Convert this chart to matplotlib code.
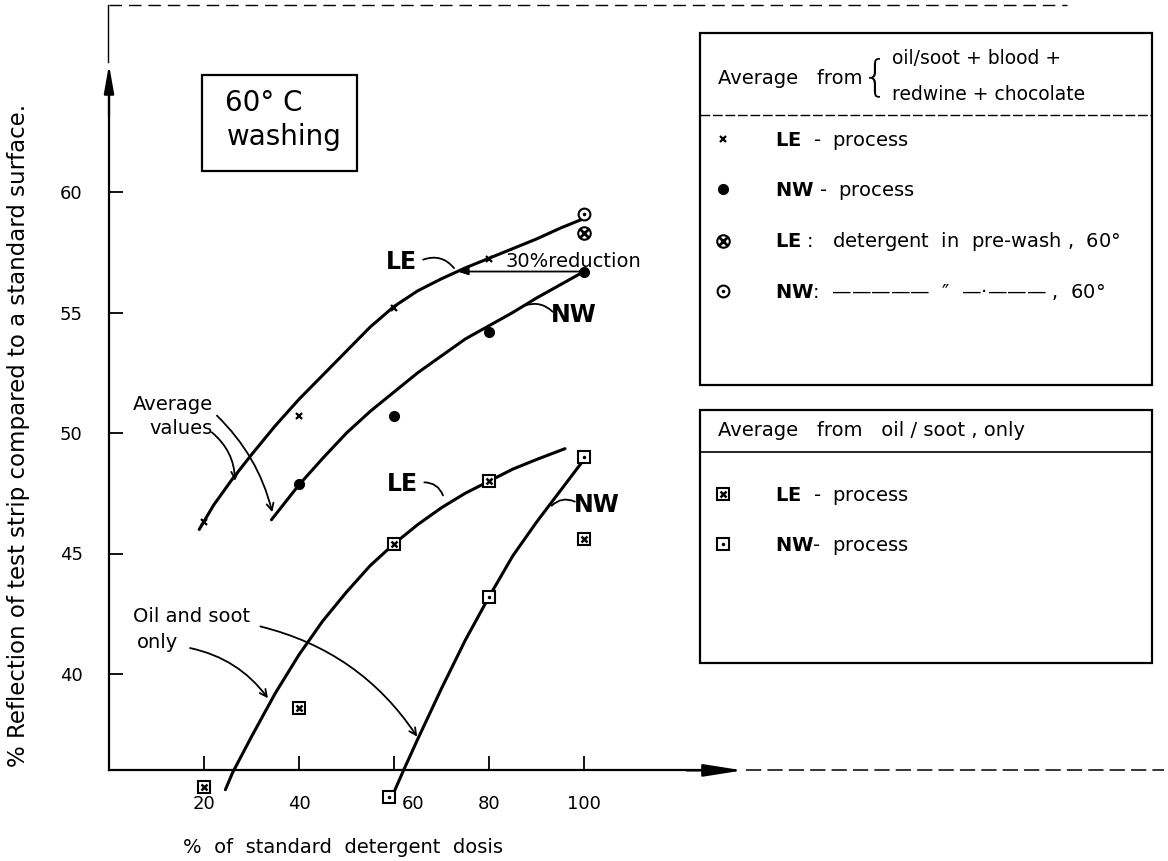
import matplotlib
matplotlib.use("Agg")
import matplotlib.pyplot as plt
from matplotlib.transforms import Affine2D, ScaledTranslation
from matplotlib.patches import Rectangle
from matplotlib.legend_handler import HandlerTuple

# figure size in pixels and the pixel layout of the axes (origin, scale)
W, H = 1168, 861
X0_PX, X_SCALE = 109, 4.75      # px of dose 0, px per % dose
Y60_PX, Y_SCALE = 192, 24.1     # px of 60 % reflection, px per % reflection
AXIS_Y = 36.0                    # where the x axis crosses

dose_le = [20, 40, 60, 80]
refl_le = [46.3, 50.7, 55.2, 57.2]
dose_nw = [40, 60, 80, 100]
refl_nw = [47.9, 50.7, 54.2, 56.7]
dose_pre = [100]
refl_pre_le = [58.3]
refl_pre_nw = [59.1]
dose_oil_le = [20, 40, 60, 80, 100]
refl_oil_le = [35.3, 38.6, 45.4, 48.0, 45.6]
dose_oil_nw = [59, 80, 100]
refl_oil_nw = [34.9, 43.2, 49.0]

# hand drawn average curves
curve_le_x = [19, 22, 26, 30, 35, 40, 45, 50, 55, 60, 65, 70, 75, 80, 85, 90, 95, 100]
curve_le_y = [46.0, 47.0, 48.1, 49.1, 50.3, 51.4, 52.4, 53.4, 54.4, 55.25,
              55.9, 56.4, 56.85, 57.25, 57.65, 58.05, 58.5, 58.9]
curve_nw_x = [34.2, 40, 45, 50, 55, 60, 65, 70, 75, 80, 85, 90, 95, 100]
curve_nw_y = [46.4, 47.85, 48.95, 50.0, 50.9, 51.7, 52.5, 53.2, 53.9, 54.45,
              55.0, 55.6, 56.15, 56.7]
curve_oil_le_x = [24.5, 26, 30, 35, 40, 45, 50, 55, 60, 65, 70, 75, 80, 85, 90, 96]
curve_oil_le_y = [35.2, 35.9, 37.4, 39.2, 40.8, 42.2, 43.4, 44.5, 45.4, 46.2,
                  46.9, 47.5, 48.0, 48.5, 48.9, 49.35]
curve_oil_nw_x = [60, 62, 65, 70, 75, 80, 85, 90, 95, 100]
curve_oil_nw_y = [35.1, 36.0, 37.3, 39.4, 41.4, 43.2, 44.9, 46.3, 47.6, 48.9]

x_ticks = [20, 40, 60, 80, 100]
y_ticks = [40, 45, 50, 55, 60]

plt.rcParams['font.family'] = ['DejaVu Sans']
plt.rcParams['mathtext.fontset'] = 'dejavusans'

fig = plt.figure(figsize=(W / 100, H / 100), dpi=100)
ax = fig.add_axes([0, 0, 1, 1])
ax.set_xlim(-X0_PX / X_SCALE, (W - X0_PX) / X_SCALE)
ax.set_ylim(60 - (H - Y60_PX) / Y_SCALE, 60 + Y60_PX / Y_SCALE)

# pixel transform, y measured from the top (for boxes and frame)
PX = Affine2D().scale(1, -1).translate(0, H)

# axes spines
for s in ['top', 'right']:
    ax.spines[s].set_visible(False)
ax.spines['left'].set_position(('data', 0))
ax.spines['bottom'].set_position(('data', AXIS_Y))
ax.spines['left'].set_bounds(AXIS_Y, 64.0)
ax.spines['bottom'].set_bounds(0, 127)
for s in ['left', 'bottom']:
    ax.spines[s].set_linewidth(1.6)
ax.annotate('', xy=(134, AXIS_Y), xytext=(121, AXIS_Y),
            arrowprops=dict(arrowstyle='-|>,head_length=2.4,head_width=0.38',
                            color='k', lw=1.6))
ax.annotate('', xy=(0, 65.4), xytext=(0, 63.0),
            arrowprops=dict(arrowstyle='-|>,head_length=1.7,head_width=0.3',
                            color='k', lw=1.6))
ax.plot([134, 222], [AXIS_Y, AXIS_Y], color='k', lw=1.1, ls=(0, (10, 4)))
# scanned frame at the top left
ax.plot([109, 1067], [5, 5], color='k', lw=1.0, ls=(0, (9, 5)), transform=PX)
ax.plot([108, 108], [5, 62], color='k', lw=1.0, transform=PX)

ax.set_xticks(x_ticks)
ax.set_xticklabels([str(v) for v in x_ticks])
ax.set_yticks(y_ticks)
ax.set_yticklabels([str(v) for v in y_ticks])
ax.tick_params(axis='both', direction='in', length=10, width=1.3, labelsize=13)
ax.tick_params(axis='x', pad=18)
ax.tick_params(axis='y', pad=19)
# the 60 label sits a bit right of its tick in the original
lbl60 = ax.xaxis.get_major_ticks()[2].label1
lbl60.set_transform(lbl60.get_transform() + ScaledTranslation(0.19, 0, fig.dpi_scale_trans))

ax.text(-19.0, 49.9, '% Reflection of test strip compared to a standard surface.',
        rotation=90, ha='center', va='center', fontsize=16.5)
ax.text(49.3, 32.8, '%  of  standard  detergent  dosis', ha='center', va='center',
        fontsize=14)

# curves
lw_c = 2.2
ax.plot(curve_le_x, curve_le_y, color='k', lw=lw_c, solid_capstyle='round')
ax.plot(curve_nw_x, curve_nw_y, color='k', lw=lw_c, solid_capstyle='round')
ax.plot(curve_oil_le_x, curve_oil_le_y, color='k', lw=lw_c, solid_capstyle='round')
ax.plot(curve_oil_nw_x, curve_oil_nw_y, color='k', lw=lw_c, solid_capstyle='round')

# points
h_le, = ax.plot(dose_le, refl_le, ls='none', marker='x', ms=5, mew=1.6, color='k')
h_nw, = ax.plot(dose_nw, refl_nw, ls='none', marker='o', ms=7, color='k')
h_pre_le_o, = ax.plot(dose_pre, refl_pre_le, ls='none', marker='o', ms=9, mew=1.5,
                      mfc='white', mec='k')
h_pre_le_x, = ax.plot(dose_pre, refl_pre_le, ls='none', marker='x', ms=6, mew=2.0, color='k')
h_pre_nw_o, = ax.plot(dose_pre, refl_pre_nw, ls='none', marker='o', ms=8.5, mew=1.5,
                      mfc='white', mec='k')
h_pre_nw_d, = ax.plot(dose_pre, refl_pre_nw, ls='none', marker='.', ms=3, color='k')
h_oil_le_s, = ax.plot(dose_oil_le, refl_oil_le, ls='none', marker='s', ms=8.5, mew=1.5,
                      mfc='white', mec='k')
h_oil_le_x, = ax.plot(dose_oil_le, refl_oil_le, ls='none', marker='x', ms=4.5, mew=1.8, color='k')
h_oil_nw_s, = ax.plot(dose_oil_nw, refl_oil_nw, ls='none', marker='s', ms=8.5, mew=1.5,
                      mfc='white', mec='k')
h_oil_nw_d, = ax.plot(dose_oil_nw, refl_oil_nw, ls='none', marker='.', ms=3, color='k')

# annotations
bold = dict(fontsize=17, fontweight='bold', ha='center', va='center')
thin = dict(arrowstyle='-', color='k', lw=1.3)
ax.text(61.5, 57.1, 'LE', **bold)
ax.annotate('', xy=(73, 56.75), xytext=(65.6, 57.15),
            arrowprops=dict(connectionstyle='arc3,rad=-0.4', **thin))
ax.text(83.5, 57.1, '30%reduction', fontsize=14, va='center', ha='left')
ax.annotate('', xy=(72.8, 56.7), xytext=(100, 56.7),
            arrowprops=dict(arrowstyle='-|>,head_length=0.6,head_width=0.2',
                            color='k', lw=1.3))
ax.text(97.8, 54.9, 'NW', **bold)
ax.annotate('', xy=(87, 55.25), xytext=(93.8, 54.95),
            arrowprops=dict(connectionstyle='arc3,rad=0.35', **thin))

ax.text(61.7, 47.9, 'LE', **bold)
ax.annotate('', xy=(70.5, 47.3), xytext=(65.8, 47.95),
            arrowprops=dict(connectionstyle='arc3,rad=-0.4', **thin))
ax.text(102.6, 47.0, 'NW', **bold)
ax.annotate('', xy=(92.8, 46.9), xytext=(98.6, 47.1),
            arrowprops=dict(connectionstyle='arc3,rad=0.4', **thin))

arrow = dict(arrowstyle='->,head_length=0.5,head_width=0.25', color='k', lw=1.3)
ax.text(5.0, 51.2, 'Average', fontsize=14, va='center', ha='left')
ax.text(8.6, 50.2, 'values', fontsize=14, va='center', ha='left')
ax.annotate('', xy=(34.5, 46.6), xytext=(22.3, 50.8),
            arrowprops=dict(connectionstyle='arc3,rad=-0.15', **arrow))
ax.annotate('', xy=(26.5, 47.9), xytext=(21.2, 50.1),
            arrowprops=dict(connectionstyle='arc3,rad=-0.25', **arrow))

ax.text(5.0, 42.4, 'Oil and soot', fontsize=14, va='center', ha='left')
ax.text(5.8, 41.3, 'only', fontsize=14, va='center', ha='left')
ax.annotate('', xy=(33.8, 38.9), xytext=(16.5, 41.1),
            arrowprops=dict(connectionstyle='arc3,rad=-0.2', **arrow))
ax.annotate('', xy=(65.2, 37.3), xytext=(31.3, 42.0),
            arrowprops=dict(connectionstyle='arc3,rad=-0.2', **arrow))

# "60° C washing" box
ax.add_patch(Rectangle((202, 75), 155, 96, transform=PX, fill=False, lw=1.6, ec='k'))
ax.text(225, 103, '60° C', transform=PX, fontsize=20, va='center', ha='left')
ax.text(227, 137, 'washing', transform=PX, fontsize=20, va='center', ha='left')

# legend boxes
ax.add_patch(Rectangle((700, 33), 452, 352, transform=PX, fill=False, lw=1.6, ec='k'))
ax.plot([700, 1152], [115, 115], transform=PX, color='k', lw=1.0, ls=(0, (7, 2)))
ax.text(718, 79, 'Average   from', transform=PX, fontsize=14, va='center', ha='left')
ax.text(862, 78, '{', transform=PX, fontsize=30, va='center', ha='left', fontweight='light')
ax.text(892, 59, 'oil/soot + blood +', transform=PX, fontsize=13.5, va='center', ha='left')
ax.text(892, 94, 'redwine + chocolate', transform=PX, fontsize=13.5, va='center', ha='left')

ax.add_patch(Rectangle((700, 410), 452, 253, transform=PX, fill=False, lw=1.6, ec='k'))
ax.plot([700, 1152], [452, 452], transform=PX, color='k', lw=1.2)
ax.text(718, 431, 'Average   from   oil / soot , only', transform=PX, fontsize=14,
        va='center', ha='left')

leg_kw = dict(loc='upper left', bbox_transform=PX, frameon=False, fontsize=14,
              handlelength=1.0, handletextpad=2.2, labelspacing=1.45, borderpad=0,
              borderaxespad=0, numpoints=1, handler_map={tuple: HandlerTuple(ndivide=1)})
leg1 = ax.legend(handles=[h_le, h_nw, (h_pre_le_o, h_pre_le_x), (h_pre_nw_o, h_pre_nw_d)],
                 labels=[r'$\mathbf{LE}$  -  process',
                         r'$\mathbf{NW}$ -  process',
                         r'$\mathbf{LE}$ :   detergent  in  pre-wash ,  60°',
                         r'$\mathbf{NW}$:  —————  ″  —·——— ,  60°'],
                 bbox_to_anchor=(713, 130), **leg_kw)
ax.add_artist(leg1)
leg2 = ax.legend(handles=[(h_oil_le_s, h_oil_le_x), (h_oil_nw_s, h_oil_nw_d)],
                 labels=[r'$\mathbf{LE}$  -  process', r'$\mathbf{NW}$-  process'],
                 bbox_to_anchor=(713, 485), **leg_kw)

fig.savefig('out.png', dpi=100)
